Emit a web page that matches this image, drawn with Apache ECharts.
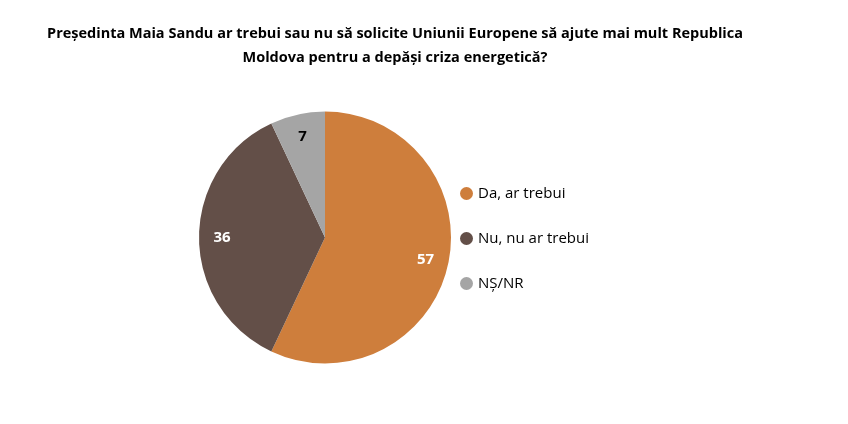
<!DOCTYPE html>
<html><head><meta charset="utf-8">
<script src="https://cdn.jsdelivr.net/npm/echarts@6/dist/echarts.min.js"></script>
<style>html,body{margin:0;padding:0;background:#fff}#c{width:848px;height:424px}</style>
</head><body><div id="c"></div>
<script>
const titleLines = ['Președinta Maia Sandu ar trebui sau nu să solicite Uniunii Europene să ajute mai mult Republica', 'Moldova pentru a depăși criza energetică?'];
const categories = ['Da, ar trebui', 'Nu, nu ar trebui', 'NȘ/NR'];
const values = [57, 36, 7];
const colors = ['#CE7E3C', '#634F48', '#A5A5A5'];
const labelColors = ['#FFFFFF', '#FFFFFF', '#000000'];

const FONT = 'Open Sans';
const chart = echarts.init(document.getElementById('c'), null, {renderer: 'canvas'});
const mainData = categories.map((n, i) => ({name: n, value: values[i], itemStyle: {color: colors[i]}}));
const labelData = categories.map((n, i) => ({name: n, value: values[i], label: {color: labelColors[i]}}));
chart.setOption({
  animation: false,
  backgroundColor: '#fff',
  title: {
    text: titleLines.join('\n'),
    left: 390, top: 17, textAlign: 'center',
    textStyle: {fontFamily: FONT, fontWeight: 'bold', fontSize: 14.5, lineHeight: 24, color: '#000'}
  },
  legend: {
    orient: 'vertical', left: 455, top: 181,
    icon: 'circle', itemWidth: 13, itemHeight: 13, itemGap: 30, selectedMode: false,
    textStyle: {fontFamily: FONT, fontSize: 15, color: '#000'},
    data: categories
  },
  series: [
    {type: 'pie', center: [325, 237.5], radius: [0, 126], startAngle: 90, clockwise: true,
     silent: true, label: {show: false}, labelLine: {show: false}, data: mainData},
    {type: 'pie', center: [325, 237.5], radius: [0, 200], startAngle: 90, clockwise: true,
     silent: true, itemStyle: {color: 'rgba(0,0,0,0)'}, labelLine: {show: false},
     label: {show: true, position: 'inside', fontFamily: FONT, fontWeight: 'bold', fontSize: 15, formatter: '{c}'},
     data: labelData}
  ]
});
</script></body></html>
